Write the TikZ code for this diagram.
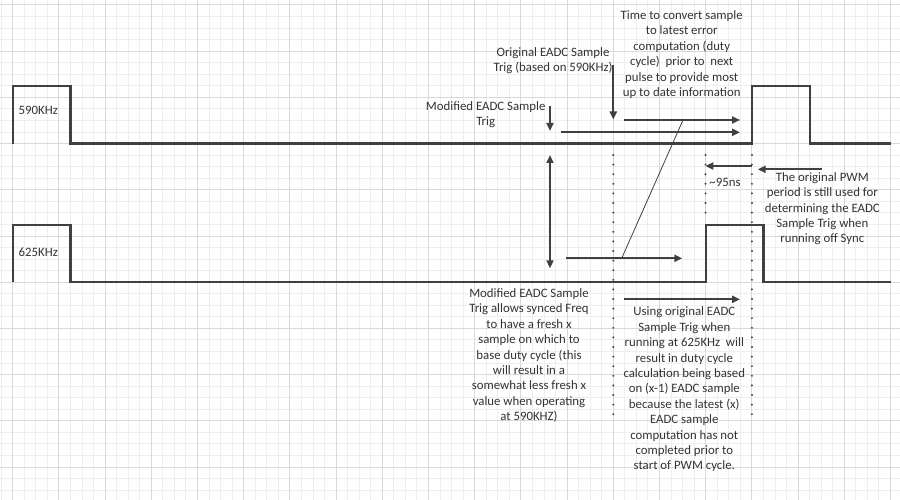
\documentclass[tikz,border=0pt]{standalone}
\usepackage{fontspec}
\setmainfont{Carlito}
\usetikzlibrary{arrows.meta}
\definecolor{gridminor}{HTML}{EEEEEE}
\definecolor{gridmajor}{HTML}{D9D9D9}
\definecolor{ink}{HTML}{404040}
\definecolor{txt}{HTML}{333333}
\begin{document}
\begin{tikzpicture}[x=1pt,y=-1pt,
  wave/.style={draw=ink,line width=2.2pt,line join=miter},
  arr/.style={draw=ink,line width=2pt,-{Triangle[length=8pt,width=7pt]}},
  darr/.style={draw=ink,line width=2pt,{Triangle[length=8pt,width=7pt]}-{Triangle[length=8pt,width=7pt]}},
  dotline/.style={draw=ink,line width=2.2pt,line cap=round,dash pattern=on 0pt off 9.6pt},
  thinline/.style={draw=ink,line width=0.8pt},
  lbl/.style={text=txt,inner sep=0pt,align=center,font=\fontsize{12.8}{15.4}\selectfont},
]
\useasboundingbox (0,0) rectangle (900,500);
\fill[white] (0,0) rectangle (900,500);
% grid
\foreach \k in {-1,...,77} \draw[gridminor,line width=1pt] ({12.7+11.55*\k},0) -- ({12.7+11.55*\k},500);
\foreach \k in {0,...,43} \draw[gridminor,line width=1pt] (0,{5+11.55*\k}) -- (900,{5+11.55*\k});
\foreach \k in {0,4,...,76} \draw[gridmajor,line width=1pt] ({12.7+11.55*\k},0) -- ({12.7+11.55*\k},500);
\foreach \k in {0,4,...,40} \draw[gridmajor,line width=1pt] (0,{5+11.55*\k}) -- (900,{5+11.55*\k});

% waveforms
\draw[wave] (12.7,143.6) -- (12.7,85.9) -- (70.5,85.9) -- (70.5,143.6) -- (751.9,143.6) -- (751.9,85.9) -- (809.6,85.9) -- (809.6,143.6) -- (890.5,143.6);
\draw[wave] (12.7,282.2) -- (12.7,224.6) -- (70.5,224.6) -- (70.5,282.2) -- (705.7,282.2) -- (705.7,224.6) -- (763.4,224.6) -- (763.4,282.2) -- (890.5,282.2);

\node[lbl,anchor=west] (f590) at (18.5,110) {590KHz};
\node[lbl,anchor=west] (f625) at (18.5,252.7) {625KHz};

% dotted guide lines
\coordinate (d1t) at (613.3,155); \coordinate (d1b) at (613.3,415);
\coordinate (d2t) at (705.5,155); \coordinate (d2b) at (705.5,215);
\coordinate (d3t) at (751.9,155); \coordinate (d3b) at (751.9,415);
\draw[dotline] (d1t) -- (d1b);
\draw[dotline] (d2t) -- (d2b);
\draw[dotline] (d3t) -- (d3b);

% texts
\node[lbl,anchor=north] (tconv) at (681.7,10.5) {Time to convert sample\\to latest error\\computation (duty\\cycle)\ \ prior to\ \ next\\pulse to provide most\\up to date information};
\node[lbl,anchor=north] (orig) at (553,47.5) {Original EADC Sample\\Trig (based on 590KHz)};
\node[lbl,anchor=north] (modt) at (485.7,101.5) {Modified EADC Sample\\Trig};
\node[lbl,anchor=base] (ns) at (725,186.4) {\textasciitilde95ns};
\node[lbl,anchor=north] (pwm) at (822.3,172.2) {The original PWM\\period is still used for\\determining the EADC\\Sample Trig when\\running off Sync};
\node[lbl,anchor=north] (modb) at (529,288.5) {Modified EADC Sample\\Trig allows synced Freq\\to have a fresh x\\sample on which to\\base duty cycle (this\\will result in a\\somewhat less fresh x\\value when operating\\at 590KHZ)};
\node[lbl,anchor=north] (using) at (684.3,306.8) {Using original EADC\\Sample Trig when\\running at 625KHz\ \ will\\result in duty cycle\\calculation being based\\on (x-1) EADC sample\\because the latest (x)\\EADC sample\\computation has not\\completed prior to\\start of PWM cycle.};

% arrows
\coordinate (o1) at (613.3,65);   \coordinate (o2) at (613.3,119.5);
\coordinate (m1) at (550,106.5);  \coordinate (m2) at (550,131);
\coordinate (a1s) at (624,120);   \coordinate (a1e) at (740,120);
\coordinate (a2s) at (560.7,132.3); \coordinate (a2e) at (740,132.3);
\coordinate (a3s) at (566,258.3); \coordinate (a3e) at (682.3,258.3);
\coordinate (a4s) at (751.7,166); \coordinate (a4e) at (705.3,166);
\coordinate (a5s) at (821.7,169.3); \coordinate (a5e) at (757.7,169.3);
\coordinate (a6s) at (624.3,299.3); \coordinate (a6e) at (740,299.3);
\coordinate (vt) at (550,155);    \coordinate (vb) at (550,268.3);
\coordinate (s1) at (683,120);    \coordinate (s2) at (621.7,258.3);

\draw[arr] (o1) -- (o2);
\draw[arr] (m1) -- (m2);
\draw[arr] (a1s) -- (a1e);
\draw[arr] (a2s) -- (a2e);
\draw[arr] (a3s) -- (a3e);
\draw[arr] (a4s) -- (a4e);
\draw[arr] (a5s) -- (a5e);
\draw[arr] (a6s) -- (a6e);
\draw[darr] (vt) -- (vb);
\draw[thinline] (s1) -- (s2);
\end{tikzpicture}
\end{document}
